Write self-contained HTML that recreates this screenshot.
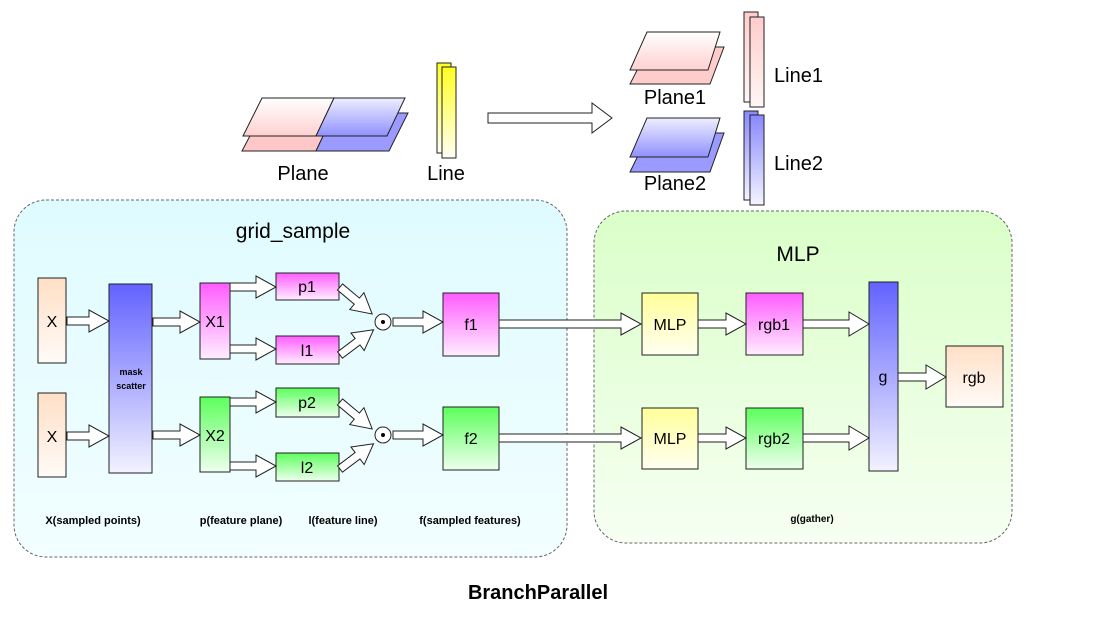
<!DOCTYPE html>
<html><head><meta charset="utf-8"><style>
html,body{margin:0;padding:0;background:#fff;}
svg{display:block;font-family:"Liberation Sans",Arial,sans-serif;}
</style></head><body>
<svg width="1114" height="638" viewBox="0 0 1114 638" xmlns="http://www.w3.org/2000/svg">
<defs>
<linearGradient id="gc" x1="0" y1="0" x2="0" y2="1"><stop offset="0" stop-color="#dffbff"/><stop offset="1" stop-color="#f2feff"/></linearGradient>
<linearGradient id="gg" x1="0" y1="0" x2="0" y2="1"><stop offset="0" stop-color="#daffc8"/><stop offset="1" stop-color="#f6fff2"/></linearGradient>
<linearGradient id="gx" x1="0" y1="0" x2="0" y2="1"><stop offset="0" stop-color="#ffdfc6"/><stop offset="1" stop-color="#fffbf7"/></linearGradient>
<linearGradient id="gb" x1="0" y1="0" x2="0" y2="1"><stop offset="0" stop-color="#6262ff"/><stop offset="1" stop-color="#f2f2ff"/></linearGradient>
<linearGradient id="gm" x1="0" y1="0" x2="0" y2="1"><stop offset="0" stop-color="#ff5cff"/><stop offset="1" stop-color="#ffeeff"/></linearGradient>
<linearGradient id="gn" x1="0" y1="0" x2="0" y2="1"><stop offset="0" stop-color="#5cff5c"/><stop offset="1" stop-color="#eeffee"/></linearGradient>
<linearGradient id="gy" x1="0" y1="0" x2="0" y2="1"><stop offset="0" stop-color="#ffff99"/><stop offset="1" stop-color="#fffff2"/></linearGradient>
<linearGradient id="gyl" x1="0" y1="0" x2="0" y2="1"><stop offset="0" stop-color="#ffff22"/><stop offset="1" stop-color="#fffff4"/></linearGradient>
<linearGradient id="gp" x1="0" y1="0" x2="0" y2="1"><stop offset="0" stop-color="#ffffff"/><stop offset="1" stop-color="#ffd0d0"/></linearGradient>
<linearGradient id="gp2" x1="0" y1="0" x2="0" y2="1"><stop offset="0" stop-color="#ffcccc"/><stop offset="1" stop-color="#fff6f6"/></linearGradient>
<linearGradient id="gbl" x1="0" y1="0" x2="0" y2="1"><stop offset="0" stop-color="#eeeeff"/><stop offset="1" stop-color="#9090ff"/></linearGradient>
<linearGradient id="gbl2" x1="0" y1="0" x2="0" y2="1"><stop offset="0" stop-color="#8888ff"/><stop offset="1" stop-color="#f4f4ff"/></linearGradient>
</defs>

<rect x="14" y="200" width="553" height="357" rx="32" fill="url(#gc)" stroke="#666" stroke-dasharray="3,2"/>
<rect x="594" y="211" width="418" height="332" rx="32" fill="url(#gg)" stroke="#666" stroke-dasharray="3,2"/>
<text x="293" y="238" font-size="21" text-anchor="middle">grid_sample</text>
<text x="798" y="261" font-size="21" text-anchor="middle">MLP</text>

<g stroke="#222" stroke-width="1">
<polygon points="262,113 334,113 316,151 242,151" fill="#ffc8c8"/>
<polygon points="334,113 408,113 389,151 316,151" fill="#9a9aff"/>
<polygon points="262,98 334,98 316,136 243,136" fill="url(#gp)"/>
<polygon points="334,98 405,98 387,136 316,136" fill="url(#gbl)"/>
<rect x="437" y="63" width="14" height="90" fill="url(#gyl)"/>
<rect x="442" y="67" width="14" height="91" fill="url(#gyl)"/>
</g>
<text x="303" y="180" font-size="20" text-anchor="middle">Plane</text>
<text x="446" y="180" font-size="20" text-anchor="middle">Line</text>
<polygon points="488,113 592,113 592,103 612,118 592,133 592,123 488,123" fill="#fff" stroke="#222"/>

<g stroke="#222" stroke-width="1">
<polygon points="649,47 724,47 710,84 630,84" fill="#ffcccc"/>
<polygon points="647,32 720,32 708,70 630,70" fill="url(#gp)"/>
<polygon points="649,133 724,133 710,172 630,172" fill="#9a9aff"/>
<polygon points="647,118 720,118 708,157 630,157" fill="url(#gbl)"/>
<rect x="744" y="12" width="14" height="90" fill="url(#gp2)"/>
<rect x="750" y="17" width="14" height="90" fill="url(#gp2)"/>
<rect x="744" y="111" width="14" height="89" fill="url(#gbl2)"/>
<rect x="750" y="115" width="14" height="90" fill="url(#gbl2)"/>
</g>
<text x="675" y="104" font-size="20" text-anchor="middle">Plane1</text>
<text x="675" y="190" font-size="20" text-anchor="middle">Plane2</text>
<text x="774" y="82" font-size="20">Line1</text>
<text x="774" y="170" font-size="20">Line2</text>

<g stroke="#222" stroke-width="1">
<rect x="38" y="278" width="28" height="85" fill="url(#gx)"/>
<rect x="38" y="393" width="28" height="84" fill="url(#gx)"/>
<rect x="109" y="284" width="43" height="189" fill="url(#gb)"/>
<rect x="200" y="283" width="30" height="76" fill="url(#gm)"/>
<rect x="200" y="397" width="30" height="75" fill="url(#gn)"/>
<rect x="276" y="273" width="63" height="27" fill="url(#gm)"/>
<rect x="276" y="336" width="63" height="28" fill="url(#gm)"/>
<rect x="276" y="388" width="63" height="29" fill="url(#gn)"/>
<rect x="276" y="453" width="63" height="28" fill="url(#gn)"/>
<rect x="443" y="293" width="56" height="63" fill="url(#gm)"/>
<rect x="443" y="407" width="56" height="63" fill="url(#gn)"/>
<rect x="642" y="293" width="56" height="62" fill="url(#gy)"/>
<rect x="642" y="408" width="56" height="61" fill="url(#gy)"/>
<rect x="746" y="293" width="57" height="62" fill="url(#gm)"/>
<rect x="746" y="408" width="57" height="61" fill="url(#gn)"/>
<rect x="869" y="282" width="29" height="189" fill="url(#gb)"/>
<rect x="946" y="346" width="57" height="61" fill="url(#gx)"/>
<circle cx="383" cy="322" r="8" fill="#fff"/>
<circle cx="383" cy="435" r="8" fill="#fff"/>
</g>
<circle cx="383" cy="322" r="2" fill="#000"/>
<circle cx="383" cy="435" r="2" fill="#000"/>

<g fill="#fff" stroke="#222" stroke-width="1">
<polygon points="67,317 89,317 89,310 109,321 89,332 89,325 67,325"/>
<polygon points="67,432 89,432 89,425 109,436 89,447 89,440 67,440"/>
<polygon points="153,318 180,318 180,311 200,322 180,333 180,326 153,326"/>
<polygon points="153,431 180,431 180,424 200,435 180,446 180,439 153,439"/>
<polygon points="230,283 256,283 256,276 276,287 256,298 256,291 230,291"/>
<polygon points="230,345 256,345 256,338 276,349 256,360 256,353 230,353"/>
<polygon points="230,398 256,398 256,391 276,402 256,413 256,406 230,406"/>
<polygon points="230,462 256,462 256,455 276,466 256,477 256,470 230,470"/>
<g transform="translate(340,287) rotate(40)"><polygon points="0,-4 22,-4 22,-11 42,0 22,11 22,4 0,4"/></g>
<g transform="translate(340,355) rotate(-37)"><polygon points="0,-4 22,-4 22,-11 42,0 22,11 22,4 0,4"/></g>
<g transform="translate(340,402) rotate(40)"><polygon points="0,-4 22,-4 22,-11 42,0 22,11 22,4 0,4"/></g>
<g transform="translate(340,469) rotate(-37)"><polygon points="0,-4 22,-4 22,-11 42,0 22,11 22,4 0,4"/></g>
<polygon points="393,318 423,318 423,311 443,322 423,333 423,326 393,326"/>
<polygon points="393,431 423,431 423,424 443,435 423,446 423,439 393,439"/>
<polygon points="499,320 621,320 621,313 641,324 621,335 621,328 499,328"/>
<polygon points="499,434 621,434 621,427 641,438 621,449 621,442 499,442"/>
<polygon points="698,320 726,320 726,313 746,324 726,335 726,328 698,328"/>
<polygon points="698,434 726,434 726,427 746,438 726,449 726,442 698,442"/>
<polygon points="803,320 849,320 849,312 869,324 849,336 849,328 803,328"/>
<polygon points="803,434 849,434 849,426 869,438 849,450 849,442 803,442"/>
<polygon points="898,373 926,373 926,365 946,377 926,389 926,381 898,381"/>
</g>

<g font-size="16" text-anchor="middle">
<text x="52" y="327">X</text>
<text x="52" y="442">X</text>
<text x="215" y="327">X1</text>
<text x="215" y="441">X2</text>
<text x="307" y="292">p1</text>
<text x="307" y="356">l1</text>
<text x="307" y="408">p2</text>
<text x="307" y="473">l2</text>
<text x="471" y="330">f1</text>
<text x="471" y="444">f2</text>
<text x="670" y="330">MLP</text>
<text x="670" y="444">MLP</text>
<text x="774" y="330">rgb1</text>
<text x="774" y="444">rgb2</text>
<text x="883" y="382">g</text>
<text x="974" y="383">rgb</text>
</g>
<g font-size="9" font-weight="bold" text-anchor="middle">
<text x="131" y="375">mask</text>
<text x="131" y="389">scatter</text>
</g>
<g font-size="11" font-weight="bold" text-anchor="middle">
<text x="93" y="524">X(sampled points)</text>
<text x="241" y="524">p(feature plane)</text>
<text x="343" y="524">l(feature line)</text>
<text x="470" y="524">f(sampled features)</text>
<text x="812" y="522" font-size="10">g(gather)</text>
</g>
<text x="538" y="599" font-size="20" font-weight="bold" text-anchor="middle">BranchParallel</text>
</svg>
</body></html>
